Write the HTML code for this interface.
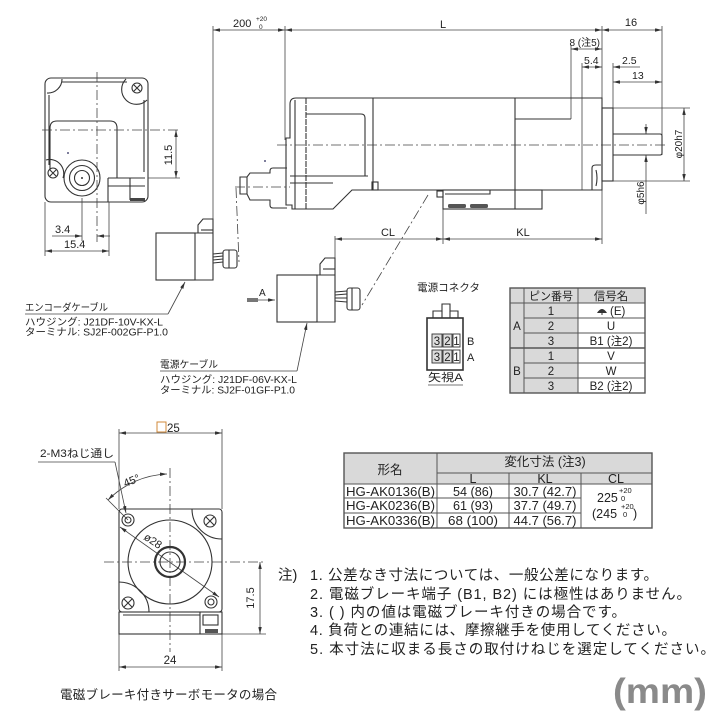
<!DOCTYPE html>
<html><head><meta charset="utf-8"><style>
html,body{margin:0;padding:0;background:#fff;}
svg{display:block;}
text{font-family:"Liberation Sans","Noto Sans CJK JP",sans-serif;fill:#222;}
</style></head><body>
<svg width="720" height="720" viewBox="0 0 720 720" xmlns="http://www.w3.org/2000/svg">
<defs>
<marker id="a" viewBox="0 0 8 4" refX="8" refY="2" markerWidth="7" markerHeight="3.5" markerUnits="userSpaceOnUse" orient="auto-start-reverse"><path d="M0,0 L8,2 L0,4z" fill="#333"/></marker>
</defs>
<rect width="720" height="720" fill="#fff"/>

<!-- ===== TOP LEFT END VIEW ===== -->
<g fill="none" stroke="#333" stroke-width="1.1">
<rect x="45" y="78" width="103" height="124" rx="6"/>
<line x1="49" y1="95" x2="49" y2="165"/>
<line x1="144" y1="100" x2="144" y2="172"/>
<line x1="62" y1="82" x2="127" y2="82"/>
<path d="M62,79 A14,14 0 0,1 47,93"/>
<path d="M126,79 A13,13 0 0,0 147,100"/>
<path d="M46,160 A14,14 0 0,1 63,178"/>
<circle cx="137" cy="88" r="5"/>
<path d="M134,85 L140,91 M140,85 L134,91"/>
<circle cx="53" cy="173" r="5"/>
<path d="M50,170 L56,176 M56,170 L50,176"/>
<path d="M50,170 L50,128 Q50,121 57,121 L110,121 Q117,121 117,128 L117,178"/>
<circle cx="82" cy="178" r="18"/>
<circle cx="82" cy="178" r="12.5"/>
<circle cx="82" cy="178" r="7.5"/>
<line x1="108" y1="178" x2="145" y2="178"/>
<line x1="108" y1="178" x2="108" y2="202"/>
<line x1="108" y1="186" x2="145" y2="186"/>
<line x1="130" y1="178" x2="130" y2="200"/>
</g>
<rect x="130" y="198" width="15" height="3" fill="#444"/>
<circle cx="82" cy="178" r="1" fill="#333"/>
<circle cx="68" cy="153" r="0.9" fill="#225"/>
<g stroke="#444" stroke-width="0.8" fill="none">
<line x1="97" y1="72" x2="97" y2="242" stroke-dasharray="10 3 2 3"/>
<line x1="42" y1="130" x2="180" y2="130" stroke-dasharray="10 3 2 3"/>
<line x1="148" y1="178" x2="180" y2="178"/>
<line x1="176" y1="130" x2="176" y2="178" marker-start="url(#a)" marker-end="url(#a)"/>
<line x1="45" y1="202" x2="45" y2="256"/>
<line x1="82" y1="198" x2="82" y2="241"/>
<line x1="109" y1="202" x2="109" y2="256"/>
<line x1="52" y1="236" x2="82" y2="236" marker-end="url(#a)"/>
<line x1="110" y1="236" x2="97" y2="236" marker-end="url(#a)"/>
<line x1="45" y1="251" x2="109" y2="251" marker-start="url(#a)" marker-end="url(#a)"/>
</g>
<text x="172" y="155" font-size="11" text-anchor="middle" transform="rotate(-90 172 155)">11.5</text>
<text x="55" y="233" font-size="11">3.4</text>
<text x="64" y="248" font-size="11">15.4</text>

<!-- ===== TOP DIMENSIONS ===== -->
<g stroke="#444" stroke-width="0.8" fill="none">
<line x1="213" y1="30" x2="285" y2="30" marker-start="url(#a)" marker-end="url(#a)"/>
<line x1="285" y1="30" x2="602" y2="30" marker-start="url(#a)" marker-end="url(#a)"/>
<line x1="602" y1="30" x2="662" y2="30" marker-start="url(#a)" marker-end="url(#a)"/>
<line x1="571" y1="49" x2="602" y2="49" marker-start="url(#a)" marker-end="url(#a)"/>
<line x1="582" y1="67" x2="602" y2="67" marker-start="url(#a)" marker-end="url(#a)"/>
<line x1="640" y1="67" x2="613" y2="67" marker-end="url(#a)"/>
<line x1="613" y1="82" x2="662" y2="82" marker-start="url(#a)" marker-end="url(#a)"/>
<line x1="213" y1="26" x2="213" y2="233"/>
<line x1="285" y1="26" x2="285" y2="140"/>
<line x1="602" y1="26" x2="602" y2="244"/>
<line x1="662" y1="26" x2="662" y2="155"/>
<line x1="571" y1="45" x2="571" y2="119"/>
<line x1="582" y1="63" x2="582" y2="190"/>
<line x1="613" y1="63" x2="613" y2="108"/>
<line x1="613" y1="108" x2="690" y2="108"/>
<line x1="613" y1="181" x2="690" y2="181"/>
<line x1="684" y1="108" x2="684" y2="181" marker-start="url(#a)" marker-end="url(#a)"/>
<line x1="646" y1="124" x2="646" y2="134" marker-end="url(#a)"/>
<line x1="646" y1="214" x2="646" y2="155" marker-end="url(#a)"/>
<line x1="335" y1="239" x2="443" y2="239" marker-start="url(#a)" marker-end="url(#a)"/>
<line x1="443" y1="239" x2="602" y2="239" marker-start="url(#a)" marker-end="url(#a)"/>
<line x1="443" y1="190" x2="443" y2="244"/>
<line x1="335" y1="236" x2="335" y2="258"/>
</g>
<text x="233" y="27" font-size="11">200</text>
<text x="256" y="21" font-size="6.5">+20</text>
<text x="259" y="29" font-size="6.5">0</text>
<text x="443" y="28" font-size="11" text-anchor="middle">L</text>
<text x="631" y="26" font-size="11" text-anchor="middle">16</text>
<text x="600" y="46" font-size="10" text-anchor="end">8 (注5)</text>
<text x="584" y="64" font-size="10.5">5.4</text>
<text x="622" y="64" font-size="10.5">2.5</text>
<text x="632" y="79" font-size="10.5">13</text>
<text x="679" y="144" font-size="10" text-anchor="middle" transform="rotate(-90 679 144)" dy="3">φ20h7</text>
<text x="641" y="193" font-size="10" text-anchor="middle" transform="rotate(-90 641 193)" dy="3">φ5h6</text>
<text x="388" y="236" font-size="11" text-anchor="middle">CL</text>
<text x="523" y="236" font-size="11" text-anchor="middle">KL</text>

<!-- ===== MOTOR SIDE VIEW ===== -->
<g fill="none" stroke="#333" stroke-width="1.1">
<path d="M296,98 L602,98 L602,190 L352,190 L333,209 L292,209 L292,205 L286,205 L286,138 L290,138 L290,104 Q290,98 296,98 Z"/>
<line x1="295" y1="100" x2="295" y2="209"/>
<line x1="306" y1="98" x2="306" y2="209" stroke-dasharray="6 1"/>
<line x1="373" y1="98" x2="373" y2="190"/>
<line x1="515" y1="98" x2="515" y2="209"/>
<path d="M306,114 L361,114 Q365,114 365,118 L365,176"/>
<line x1="290" y1="176" x2="368" y2="176"/>
<line x1="290" y1="183" x2="333" y2="183"/>
<rect x="372" y="182" width="6" height="8"/>
<line x1="515" y1="119" x2="571" y2="119"/>
<path d="M592,190 L592,168 Q592,165 596,165 L601,165"/>
<path d="M596,170 Q598,178 596,186"/>
<rect x="443" y="190" width="99" height="19"/>
<path d="M445,194 L490,194 L490,190"/>
<rect x="437" y="191" width="6" height="6"/>
<rect x="602" y="108" width="11" height="73"/>
<path d="M613,134 L660,134 Q662,134 662,136 L662,153 Q662,155 660,155 L613,155"/>
<path d="M287,168 L273,168 Q270,168 270,171 L270,173 L250,173 L247,177 L240,177 L240,194 L247,194 L250,200 L270,200 L270,205 Q270,208 273,208 L287,208"/>
<line x1="247" y1="177" x2="247" y2="194"/>
</g>
<rect x="448" y="204" width="18" height="4" rx="1.5" fill="#555"/>
<rect x="470" y="204" width="18" height="4" rx="1.5" fill="#555"/>
<circle cx="265" cy="161" r="0.9" fill="#225"/>
<g stroke="#444" stroke-width="0.8" fill="none" stroke-dasharray="10 3 2 3">
<line x1="277" y1="145" x2="668" y2="145"/>
<line x1="235" y1="187" x2="290" y2="187"/>
<line x1="236" y1="188" x2="239" y2="262"/>
<line x1="428" y1="195" x2="362" y2="305"/>
</g>

<!-- ===== CONNECTORS ===== -->
<g fill="none" stroke="#333" stroke-width="1.1">
<rect x="156" y="233" width="39" height="47"/>
<path d="M195,280 L213,280 L213,219 L203,219 L198,225 L198,233"/>
<line x1="201" y1="230" x2="213" y2="230"/>
<line x1="195" y1="233" x2="213" y2="233"/>
<path d="M213,254 L223,253 M213,257 L223,256 M213,260 L223,259 M213,263 L223,262"/>
<rect x="223" y="250" width="14" height="18" rx="2.5"/>
<line x1="229" y1="250" x2="229" y2="268"/>
<rect x="277" y="275" width="40" height="47"/>
<path d="M317,322 L335,322 L335,258 L325,258 L320,264 L320,275"/>
<line x1="323" y1="269" x2="335" y2="269"/>
<line x1="317" y1="275" x2="335" y2="275"/>
<path d="M335,292 L347,291 M335,295 L347,294 M335,298 L347,298 M335,301 L347,302"/>
<rect x="347" y="288" width="13" height="22" rx="2.5"/>
<line x1="352" y1="288" x2="352" y2="310"/>
</g>
<g stroke="#444" stroke-width="0.8" fill="none">
<line x1="247" y1="300" x2="275" y2="300" marker-end="url(#a)"/>
<line x1="25" y1="314" x2="168" y2="314"/>
<line x1="168" y1="314" x2="185" y2="282" marker-end="url(#a)"/>
<line x1="160" y1="371" x2="297" y2="371"/>
<line x1="297" y1="371" x2="307" y2="323" marker-end="url(#a)"/>
</g>
<rect x="247" y="298" width="11" height="4" fill="#777"/>
<text x="259" y="296" font-size="10">A</text>
<g font-size="10">
<text x="25" y="311" textLength="83" lengthAdjust="spacingAndGlyphs">エンコーダケーブル</text>
<text x="25" y="325.5" textLength="138" lengthAdjust="spacingAndGlyphs">ハウジング: J21DF-10V-KX-L</text>
<text x="25" y="335.5" textLength="143" lengthAdjust="spacingAndGlyphs">ターミナル: SJ2F-002GF-P1.0</text>
<text x="160" y="368" textLength="58" lengthAdjust="spacingAndGlyphs">電源ケーブル</text>
<text x="160" y="383" textLength="137" lengthAdjust="spacingAndGlyphs">ハウジング: J21DF-06V-KX-L</text>
<text x="160" y="393.5" textLength="135" lengthAdjust="spacingAndGlyphs">ターミナル: SJ2F-01GF-P1.0</text>
</g>

<!-- ===== POWER CONNECTOR FIGURE ===== -->
<text x="417" y="291" font-size="10.5" textLength="63" lengthAdjust="spacingAndGlyphs">電源コネクタ</text>
<g fill="none" stroke="#333">
<rect x="427" y="318" width="36" height="52" stroke-width="1.6"/>
<polyline points="433,318 433,311 442,311 442,304 450,304 450,311 458,311 458,318" stroke-width="1.1"/>
<line x1="442" y1="311" x2="442" y2="318" stroke-width="1.1"/>
<line x1="450" y1="311" x2="450" y2="318" stroke-width="1.1"/>
</g>
<g stroke="#333" stroke-width="0.9">
<rect x="432" y="334" width="10" height="13" fill="#ddd"/>
<rect x="443" y="334" width="9" height="13" fill="#ddd"/>
<rect x="453" y="334" width="7" height="13" fill="#fff"/>
<rect x="432" y="350" width="10" height="13" fill="#ddd"/>
<rect x="443" y="350" width="9" height="13" fill="#ddd"/>
<rect x="453" y="350" width="7" height="13" fill="#fff"/>
</g>
<g font-size="11.5" text-anchor="middle">
<text x="437" y="345">3</text><text x="447.5" y="345">2</text><text x="456.5" y="345">1</text>
<text x="437" y="361">3</text><text x="447.5" y="361">2</text><text x="456.5" y="361">1</text>
</g>
<text x="467" y="345" font-size="11">B</text>
<text x="467" y="361" font-size="11">A</text>
<text x="428" y="381" font-size="11" textLength="35" lengthAdjust="spacingAndGlyphs">矢視A</text>
<line x1="428" y1="385" x2="463" y2="385" stroke="#777" stroke-width="1"/>

<!-- ===== PIN TABLE ===== -->
<rect x="510" y="288" width="135" height="105" fill="#fff"/>
<rect x="510" y="288" width="135" height="15" fill="#d9d9d9"/>
<rect x="510" y="303" width="68" height="90" fill="#d9d9d9"/>
<g stroke="#555" stroke-width="1" fill="none">
<rect x="510" y="288" width="135" height="105" stroke-width="1.4"/>
<line x1="510" y1="303" x2="645" y2="303"/>
<line x1="524" y1="318" x2="645" y2="318"/>
<line x1="524" y1="333" x2="645" y2="333"/>
<line x1="510" y1="348" x2="645" y2="348" stroke-width="1.6"/>
<line x1="524" y1="363" x2="645" y2="363"/>
<line x1="524" y1="378" x2="645" y2="378"/>
<line x1="524" y1="288" x2="524" y2="393"/>
<line x1="578" y1="288" x2="578" y2="393"/>
</g>
<g font-size="11.5" text-anchor="middle">
<text x="551" y="300" textLength="44" lengthAdjust="spacingAndGlyphs">ピン番号</text>
<text x="611" y="300">信号名</text>
<text x="517" y="330">A</text>
<text x="517" y="375">B</text>
<text x="551" y="315">1</text><text x="551" y="330">2</text><text x="551" y="345">3</text>
<text x="551" y="360">1</text><text x="551" y="375">2</text><text x="551" y="390">3</text>
<text x="611" y="330">U</text>
<text x="611" y="345">B1 (注2)</text>
<text x="611" y="360">V</text>
<text x="611" y="375">W</text>
<text x="611" y="390">B2 (注2)</text>
</g>
<path d="M597,313 Q602,305 607,313 Z" fill="#333"/>
<line x1="602" y1="309" x2="602" y2="315" stroke="#333" stroke-width="1"/>
<text x="610" y="315" font-size="11.5">(E)</text>

<!-- ===== BOTTOM LEFT FLANGE VIEW ===== -->
<g stroke="#444" stroke-width="0.8" fill="none">
<line x1="119" y1="429" x2="119" y2="509"/>
<line x1="222" y1="429" x2="222" y2="509"/>
<line x1="119" y1="433" x2="222" y2="433" marker-start="url(#a)" marker-end="url(#a)"/>
<line x1="119" y1="634" x2="119" y2="671"/>
<line x1="222" y1="634" x2="222" y2="671"/>
<line x1="119" y1="667" x2="222" y2="667" marker-start="url(#a)" marker-end="url(#a)"/>
<line x1="222" y1="634" x2="266" y2="634"/>
<line x1="260" y1="562" x2="260" y2="634" marker-start="url(#a)" marker-end="url(#a)"/>
<line x1="170" y1="468" x2="170" y2="652" stroke-dasharray="10 3 2 3"/>
<line x1="104" y1="562" x2="266" y2="562" stroke-dasharray="10 3 2 3"/>
<path d="M167,474 A88,88 0 0,0 108,500" marker-start="url(#a)" marker-end="url(#a)"/>
<line x1="128" y1="520" x2="106" y2="498"/>
<line x1="120" y1="527" x2="219" y2="597" marker-start="url(#a)" marker-end="url(#a)"/>
<line x1="38" y1="462" x2="115" y2="462"/>
<line x1="115" y1="462" x2="126" y2="513" marker-end="url(#a)"/>
</g>
<g fill="none" stroke="#333" stroke-width="1.1">
<rect x="119" y="509" width="103" height="103" rx="3"/>
<rect x="119" y="612" width="103" height="22"/>
<line x1="123" y1="615" x2="200" y2="615"/>
<line x1="200" y1="612" x2="200" y2="634"/>
<rect x="203" y="615" width="15" height="10"/>
<path d="M192,509 A30,30 0 0,0 222,539"/>
<path d="M149,612 A30,30 0 0,0 119,582"/>
<circle cx="170" cy="562" r="42"/>
<circle cx="170" cy="562" r="15" stroke-width="2.2"/>
<circle cx="170" cy="562" r="10"/>
<circle cx="128" cy="520" r="6"/>
<circle cx="128" cy="520" r="3"/>
<circle cx="211" cy="602" r="6"/>
<circle cx="211" cy="602" r="3"/>
<circle cx="210" cy="521" r="6"/>
<path d="M206,517 L214,525 M214,517 L206,525"/>
<circle cx="128" cy="603" r="6"/>
<path d="M124,599 L132,607 M132,599 L124,607"/>
</g>
<rect x="205" y="629" width="13" height="4" fill="#555"/>
<rect x="157" y="422" width="9" height="10" fill="none" stroke="#d08a3a" stroke-width="1"/>
<text x="167" y="432" font-size="11.5">25</text>
<text x="40" y="457" font-size="11" textLength="74" lengthAdjust="spacingAndGlyphs">2-M3ねじ通し</text>
<text x="133" y="484" font-size="11" text-anchor="middle" transform="rotate(-22 133 484)">45°</text>
<text x="151" y="544" font-size="11" text-anchor="middle" transform="rotate(33 151 544)">ø28</text>
<text x="254" y="598" font-size="11" text-anchor="middle" transform="rotate(-90 254 598)">17.5</text>
<text x="170" y="664" font-size="11.5" text-anchor="middle">24</text>
<text x="60" y="699" font-size="12.5" textLength="217" lengthAdjust="spacing">電磁ブレーキ付きサーボモータの場合</text>

<!-- ===== DIMENSION TABLE ===== -->
<rect x="344" y="453" width="308" height="75" fill="#fff"/>
<rect x="344" y="453" width="308" height="31" fill="#d9d9d9"/>
<g stroke="#555" stroke-width="1" fill="none">
<rect x="344" y="453" width="308" height="75" stroke-width="1.4"/>
<line x1="437" y1="473" x2="652" y2="473"/>
<line x1="344" y1="484" x2="652" y2="484"/>
<line x1="344" y1="498" x2="581" y2="498"/>
<line x1="344" y1="513" x2="581" y2="513"/>
<line x1="437" y1="453" x2="437" y2="528"/>
<line x1="509" y1="473" x2="509" y2="528"/>
<line x1="581" y1="473" x2="581" y2="528"/>
</g>
<g font-size="12.5" text-anchor="middle">
<text x="390" y="474">形名</text>
<text x="545" y="466">変化寸法 (注3)</text>
<text x="473" y="483">L</text>
<text x="545" y="483">KL</text>
<text x="616" y="483">CL</text>
<text x="473" y="496" textLength="40" lengthAdjust="spacingAndGlyphs">54 (86)</text>
<text x="473" y="510" textLength="40" lengthAdjust="spacingAndGlyphs">61 (93)</text>
<text x="473" y="525" textLength="50" lengthAdjust="spacingAndGlyphs">68 (100)</text>
<text x="545" y="496" textLength="63" lengthAdjust="spacingAndGlyphs">30.7 (42.7)</text>
<text x="545" y="510" textLength="63" lengthAdjust="spacingAndGlyphs">37.7 (49.7)</text>
<text x="545" y="525" textLength="63" lengthAdjust="spacingAndGlyphs">44.7 (56.7)</text>
</g>
<g font-size="12.5">
<text x="346" y="496" textLength="89" lengthAdjust="spacingAndGlyphs">HG-AK0136(B)</text>
<text x="346" y="510" textLength="89" lengthAdjust="spacingAndGlyphs">HG-AK0236(B)</text>
<text x="346" y="525" textLength="89" lengthAdjust="spacingAndGlyphs">HG-AK0336(B)</text>
<text x="597" y="502">225</text>
<text x="592" y="518">(245</text>
<text x="633" y="518">)</text>
</g>
<g font-size="7.5">
<text x="619" y="493">+20</text>
<text x="621" y="501">0</text>
<text x="621" y="509">+20</text>
<text x="623" y="517">0</text>
</g>

<!-- ===== NOTES ===== -->
<g font-size="14.5">
<text x="278" y="580">注)</text>
<text x="310" y="580" textLength="348" lengthAdjust="spacing">1. 公差なき寸法については、一般公差になります。</text>
<text x="310" y="599" textLength="381" lengthAdjust="spacing">2. 電磁ブレーキ端子 (B1, B2) には極性はありません。</text>
<text x="310" y="617" textLength="316" lengthAdjust="spacing">3. ( ) 内の値は電磁ブレーキ付きの場合です。</text>
<text x="310" y="635" textLength="366" lengthAdjust="spacing">4. 負荷との連結には、摩擦継手を使用してください。</text>
<text x="310" y="654" textLength="405" lengthAdjust="spacing">5. 本寸法に収まる長さの取付けねじを選定してください。</text>
</g>
<text x="613" y="703" font-size="35" font-weight="bold" textLength="94" lengthAdjust="spacingAndGlyphs" style="fill:#8a8a8a">(mm)</text>
</svg>
</body></html>
